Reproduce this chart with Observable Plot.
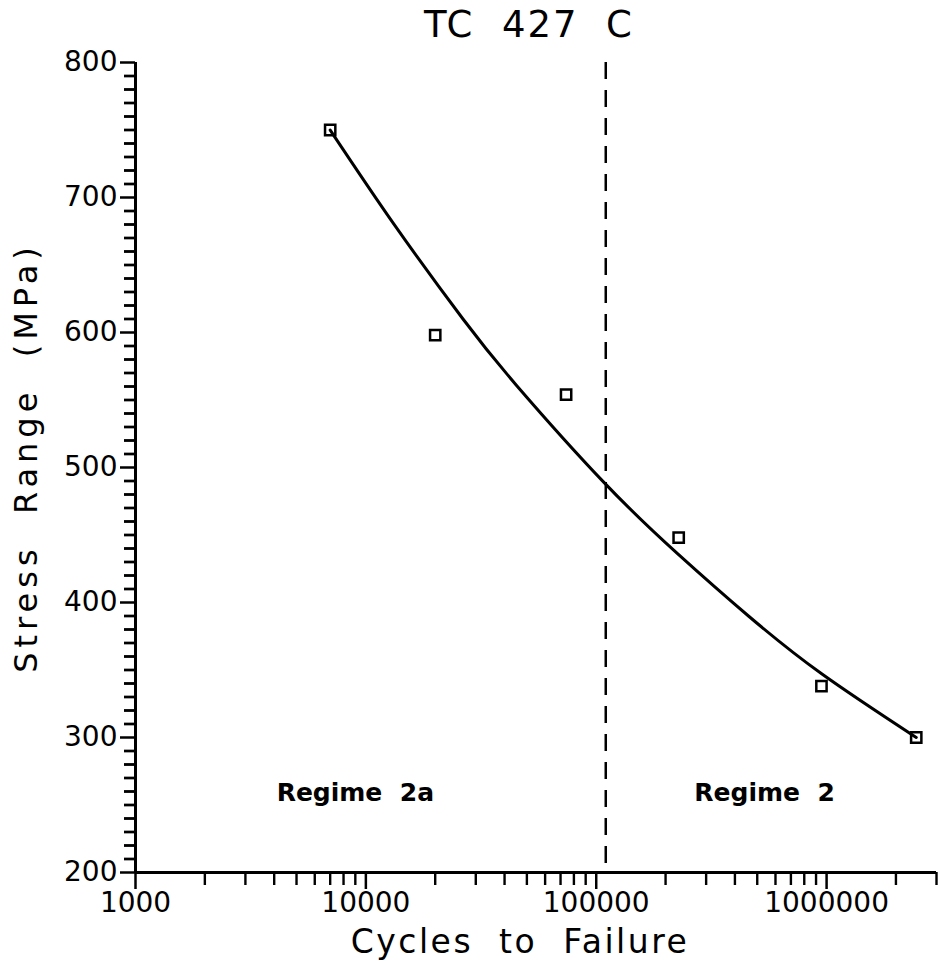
<!DOCTYPE html>
<html>
<head>
<meta charset="utf-8">
<script src="https://cdn.jsdelivr.net/npm/d3@7"></script>
<script src="https://cdn.jsdelivr.net/npm/@observablehq/plot@0.6"></script>
<style>
  html, body { margin: 0; padding: 0; background: white; }
  #chart { position: relative; width: 940px; height: 972px; }
  #chart svg { display: block; }
  #chart svg.overlay { position: absolute; left: 0; top: 0; pointer-events: none; }
</style>
</head>
<body>
<div id="chart"></div>
<script>
// Title and axis texts
const titleText = "TC  427  C";
const xLabelText = "Cycles  to  Failure";
const yLabelText = "Stress  Range  (MPa)";

// Test data (open squares)
const cycles = [7000, 20000, 74000, 228000, 950000, 2450000];
const stress = [750, 598, 554, 448, 338, 300];

// Fitted curve
const fitCycles = [7000, 13400, 26400, 45000, 108000, 226000, 458000, 955000, 2450000];
const fitStress = [750, 679, 610, 561, 489, 436, 390, 347, 300];

// Regime boundary
const boundaryCycles = [110000];

// Regime annotations
const regimeNames = ["Regime  2a", "Regime  2"];
const regimeCycles = [9000, 538000];
const regimeStress = [259, 259];

// Ticks
const xMajor = [1000, 10000, 100000, 1000000];
const xMinor = [2000, 3000, 4000, 5000, 6000, 7000, 8000, 9000,
                20000, 30000, 40000, 50000, 60000, 70000, 80000, 90000,
                200000, 300000, 400000, 500000, 600000, 700000, 800000, 900000,
                2000000, 3000000];
const yMajor = [200, 300, 400, 500, 600, 700, 800];
const yMinor = [210, 220, 230, 240, 250, 260, 270, 280, 290,
                310, 320, 330, 340, 350, 360, 370, 380, 390,
                410, 420, 430, 440, 450, 460, 470, 480, 490,
                510, 520, 530, 540, 550, 560, 570, 580, 590,
                610, 620, 630, 640, 650, 660, 670, 680, 690,
                710, 720, 730, 740, 750, 760, 770, 780, 790];

const points = cycles.map((c, i) => ({c, s: stress[i]}));
const fit = fitCycles.map((c, i) => ({c, s: fitStress[i]}));
const regimes = regimeNames.map((n, i) => ({n, c: regimeCycles[i], s: regimeStress[i]}));

const frame = {
  width: 940,
  height: 972,
  marginTop: 62,
  marginBottom: 100,
  marginLeft: 135,
  marginRight: 4,
  x: {type: "log", domain: [1000, 3000000], axis: null},
  y: {domain: [200, 800], axis: null}
};

const chart = Plot.plot({
  ...frame,
  style: {fontFamily: "DejaVu Sans", background: "white", color: "black"},
  marks: [
    // y ticks
    Plot.axisY(yMinor, {tickSize: 11, tickFormat: () => "", strokeWidth: 2.4, label: null}),
    Plot.axisY(yMajor, {tickSize: 15, tickPadding: 3, fontSize: 28, strokeWidth: 2.5, label: null, tickFormat: d3.format("d")}),
    // x ticks
    Plot.axisX(xMinor, {tickSize: 13, tickFormat: () => "", strokeWidth: 2.4, label: null}),
    Plot.axisX(xMajor, {tickSize: 17, tickPadding: 3, fontSize: 28, strokeWidth: 2.5, label: null, tickFormat: d3.format("d")}),
    // axis lines
    Plot.ruleX([1000], {stroke: "black", strokeWidth: 3}),
    Plot.ruleY([200], {stroke: "black", strokeWidth: 3}),
    // regime boundary
    Plot.ruleX(boundaryCycles, {stroke: "black", strokeWidth: 2.5, strokeDasharray: "17,11"}),
    // fitted curve
    Plot.line(fit, {x: "c", y: "s", stroke: "black", strokeWidth: 3, curve: "natural"}),
    // data
    Plot.dot(points, {x: "c", y: "s", symbol: "square", r: 5.8, stroke: "black", strokeWidth: 2.5, fill: "none"}),
    // regime labels
    Plot.text(regimes, {x: "c", y: "s", text: "n", fontSize: 25, fontWeight: "bold", fill: "black"}),
    // title
    Plot.text([titleText], {frameAnchor: "top", dy: -37, dx: -7, fontSize: 37, fill: "black", textAnchor: "middle", lineAnchor: "middle"}),
    // x label
    Plot.text([xLabelText], {frameAnchor: "bottom", dy: 70, dx: -16, fontSize: 33, fill: "black", textAnchor: "middle", lineAnchor: "middle"}),
    // y label
    Plot.text([yLabelText], {frameAnchor: "left", dx: -109, dy: -10, rotate: -90, fontSize: 32, fill: "black", textAnchor: "middle", lineAnchor: "middle"})
  ]
});

// letter spacing for the wide plotter-style labels
d3.select(chart).selectAll("text").each(function() {
  const t = this.textContent;
  if (t === titleText) this.style.letterSpacing = "2px";
  if (t === xLabelText) this.style.letterSpacing = "2.5px";
  if (t === yLabelText) this.style.letterSpacing = "5px";
});

// minor y ticks on a transparent plot with the same scales, laid over the chart
const minorTicks = Plot.plot({
  ...frame,
  className: "overlay",
  style: {background: "transparent"},
  marks: [
    Plot.ruleY(yMinor, {y: d => d, x1: 1000, x2: 1000, insetLeft: -11, stroke: "black", strokeWidth: 2.4})
  ]
});
minorTicks.classList.add("overlay");

const holder = document.getElementById("chart");
holder.appendChild(chart);
holder.appendChild(minorTicks);
</script>
</body>
</html>
